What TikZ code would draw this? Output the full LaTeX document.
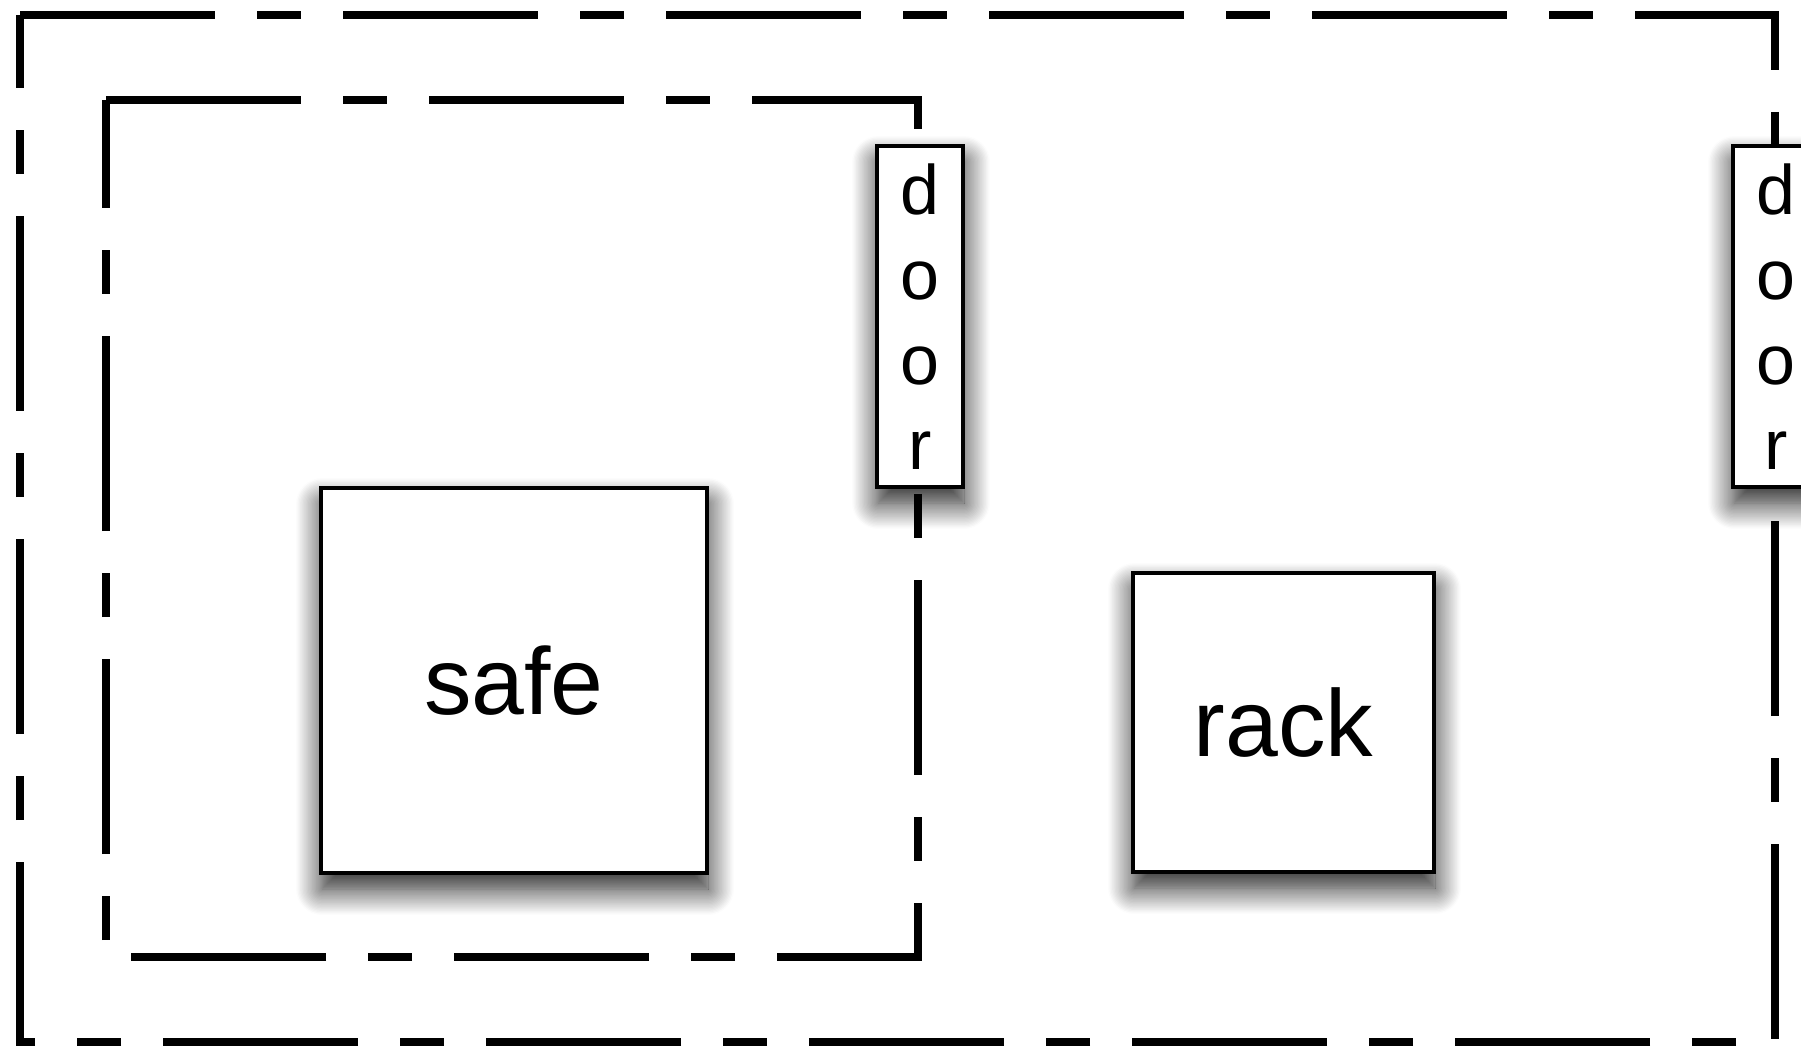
\documentclass[tikz,border=0pt]{standalone}
\usepackage{fontspec}
\setmainfont{Liberation Sans}
\usetikzlibrary{shadows.blur}

\tikzset{
  wall/.style={line width=3.6pt, dash pattern=on 97.5pt off 21pt on 22pt off 21pt},
  softshadow/.style={blur shadow={shadow xshift=0.5pt, shadow yshift=-8pt,
      shadow blur radius=13pt, shadow blur steps=20, shadow opacity=90}},
  item/.style={draw, line width=1.6pt, fill=white, softshadow, inner sep=0pt,
      font=\fontsize{47.5pt}{57pt}\selectfont},
  doorbox/.style={draw, line width=1.6pt, fill=white, softshadow, inner sep=0pt,
      minimum width=43pt, minimum height=170.5pt, align=center,
      font=\fontsize{35pt}{42.5pt}\selectfont},
}

\begin{document}
\begin{tikzpicture}[x=0.5pt, y=-0.5pt]
  \useasboundingbox (0,0) rectangle (1801,1048);

  % outer room
  \coordinate (otl) at (20,15);
  \coordinate (otr) at (1775,15);
  \coordinate (obr) at (1775,1042);
  \coordinate (obl) at (20,1042);
  \draw[wall] (otl) -- (otr) -- (obr) -- (obl) -- cycle;

  % inner room
  \coordinate (itl) at (106,100);
  \coordinate (itr) at (918,100);
  \coordinate (ibr) at (918,957);
  \coordinate (ibl) at (106,957);
  \draw[wall] (itl) -- (itr) -- (ibr) -- (ibl) -- cycle;

  % furniture
  \node[item, minimum width=193pt, minimum height=192.5pt] (safe) at (514,680.5) {safe};
  \node[item, minimum width=150.5pt, minimum height=149.5pt] (rack) at (1283.5,722.5) {rack};

  % doors in the walls
  \node[doorbox] (innerdoor) at (920,316.5) {d\\o\\o\\r};
  \node[doorbox] (outerdoor) at (1776,316.5) {d\\o\\o\\r};
\end{tikzpicture}
\end{document}
